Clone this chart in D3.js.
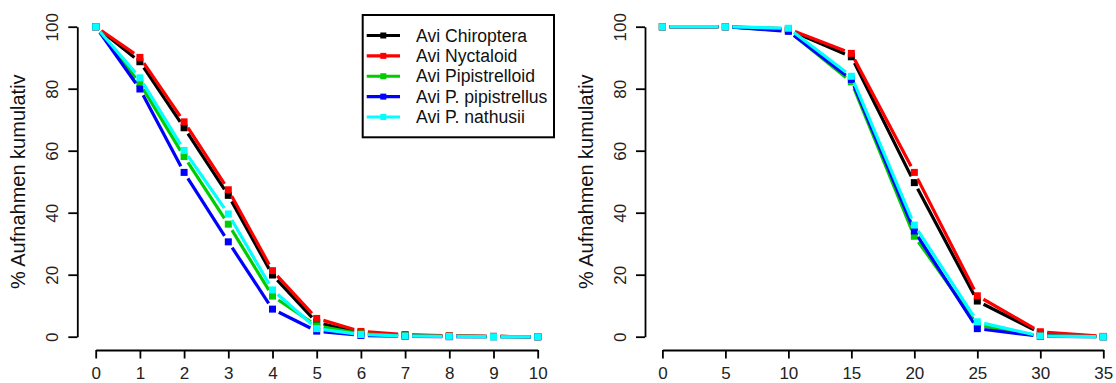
<!DOCTYPE html>
<html><head><meta charset="utf-8">
<script src="https://cdn.jsdelivr.net/npm/d3@7"></script>
<style>
html,body{margin:0;padding:0;background:#fff;}
svg{display:block;font-family:"Liberation Sans",Arial,sans-serif;}
</style></head>
<body>
<svg id="c" width="1116" height="383"></svg>
<script>
// ---- data ----
const seriesNames = ["Avi Chiroptera","Avi Nyctaloid","Avi Pipistrelloid","Avi P. pipistrellus","Avi P. nathusii"];
const seriesColors = ["#000000","#ff0000","#00cd00","#0000ff","#00ffff"];

const leftX = [0,1,2,3,4,5,6,7,8,9,10];
const leftChiroptera   = [100, 88.7, 67.4, 45.6, 19.9, 4.6, 1.2, 0.5, 0.2, 0.1, 0];
const leftNyctaloid    = [100, 90.1, 69.3, 47.4, 21.3, 5.9, 1.7, 0.7, 0.3, 0.1, 0];
const leftPipistrelloid= [100, 81.7, 58.1, 36.3, 13.1, 3.5, 0.9, 0.3, 0.1, 0, 0];
const leftPipistrellus = [100, 79.9, 53.0, 30.6, 8.9, 1.8, 0.4, 0.1, 0, 0, 0];
const leftNathusii     = [100, 83.5, 60.1, 39.6, 15.1, 2.6, 0.7, 0.2, 0.1, 0, 0];

const rightX = [0,5,10,15,20,25,30,35];
const rightChiroptera   = [100, 100, 99.0, 90.3, 49.7, 11.5, 1.2, 0];
const rightNyctaloid    = [100, 100, 99.3, 91.4, 53.0, 13.2, 1.6, 0.1];
const rightPipistrelloid= [100, 100, 98.7, 82.2, 32.4, 3.8, 0.2, 0];
const rightPipistrellus = [100, 100, 98.5, 83.0, 34.1, 2.6, 0.1, 0];
const rightNathusii     = [100, 100, 99.5, 84.0, 36.0, 4.8, 0.2, 0];

const leftXTicks = [0,1,2,3,4,5,6,7,8,9,10];
const rightXTicks = [0,5,10,15,20,25,30,35];
const yTicks = [0,20,40,60,80,100];
const yTitle = "% Aufnahmen kumulativ";

const leftSeries = [leftChiroptera,leftNyctaloid,leftPipistrelloid,leftPipistrellus,leftNathusii];
const rightSeries = [rightChiroptera,rightNyctaloid,rightPipistrelloid,rightPipistrellus,rightNathusii];

// ---- drawing ----
const svg = d3.select("#c");
const FS_TICK = 17, FS_TITLE = 20, FS_LEG = 17.6;

function panel(opts){
  const {xs, series, xTicks, xRange, axisX, titleX} = opts;
  const x = d3.scaleLinear().domain([d3.min(xs), d3.max(xs)]).range(xRange);
  const y = d3.scaleLinear().domain([0,100]).range([336.7, 26.7]);
  const g = svg.append("g");

  // x axis
  const xa = g.append("g").attr("transform","translate(0,350)")
    .call(d3.axisBottom(x).tickValues(xTicks).tickSize(8.5).tickSizeOuter(0).tickFormat(d3.format("d")));
  xa.select(".domain").attr("stroke","#000").attr("stroke-width",1.8);
  xa.selectAll(".tick line").attr("stroke","#000").attr("stroke-width",1.8);
  xa.selectAll(".tick text").attr("font-size",FS_TICK).attr("font-family","Liberation Sans, Arial, sans-serif")
    .attr("fill","#222").attr("y",null).attr("dy",null).attr("transform","translate(0,29.3)");

  // y axis
  const ya = g.append("g").attr("transform",`translate(${axisX},0)`)
    .call(d3.axisLeft(y).tickValues(yTicks).tickSize(9).tickSizeOuter(0));
  ya.select(".domain").attr("stroke","#000").attr("stroke-width",1.8);
  ya.selectAll(".tick line").attr("stroke","#000").attr("stroke-width",1.8);
  ya.selectAll(".tick text").attr("font-size",FS_TICK).attr("font-family","Liberation Sans, Arial, sans-serif")
    .attr("fill","#222").attr("x",null).attr("dy",null)
    .attr("text-anchor","middle").attr("transform","translate(-19,0) rotate(-90)");

  // y title
  g.append("text").attr("transform",`translate(${titleX},181.7) rotate(-90)`)
    .attr("text-anchor","middle").attr("font-size",FS_TITLE).attr("fill","#111").text(yTitle);

  // series: lines with gaps around points (R type="b")
  const gap = 7;
  series.forEach((vals,si)=>{
    const col = seriesColors[si];
    const pts = xs.map((xv,i)=>[x(xv), y(vals[i])]);
    const sg = g.append("g");
    for(let i=0;i<pts.length-1;i++){
      const [x1,y1]=pts[i],[x2,y2]=pts[i+1];
      const dx=x2-x1, dy=y2-y1, L=Math.hypot(dx,dy);
      if(L>2*gap){
        const ux=dx/L, uy=dy/L;
        sg.append("line").attr("x1",x1+ux*gap).attr("y1",y1+uy*gap)
          .attr("x2",x2-ux*gap).attr("y2",y2-uy*gap)
          .attr("stroke",col).attr("stroke-width",3.2);
      }
    }
    sg.selectAll("rect").data(pts).join("rect")
      .attr("x",d=>d[0]-3.5).attr("y",d=>d[1]-3.5).attr("width",7).attr("height",7)
      .attr("fill",col);
  });
  return {x,y};
}

panel({xs:leftX, series:leftSeries, xTicks:leftXTicks, xRange:[95.7,537.7], axisX:77.3, titleX:25});
panel({xs:rightX, series:rightSeries, xTicks:rightXTicks, xRange:[662.4,1103.3], axisX:645, titleX:593});

// legend
const lg = svg.append("g");
lg.append("rect").attr("x",362.7).attr("y",15).attr("width",191.3).attr("height",122.3)
  .attr("fill","#fff").attr("stroke","#000").attr("stroke-width",2);
const rowY = d3.scaleLinear().domain([0,4]).range([35.5,117]);
seriesNames.forEach((n,i)=>{
  const yy = rowY(i);
  lg.append("line").attr("x1",366.7).attr("x2",400).attr("y1",yy).attr("y2",yy)
    .attr("stroke",seriesColors[i]).attr("stroke-width",3.2);
  lg.append("rect").attr("x",383.3-3).attr("y",yy-3).attr("width",6).attr("height",6).attr("fill",seriesColors[i]);
  lg.append("text").attr("x",416).attr("y",yy+6).attr("font-size",FS_LEG).attr("fill","#111").text(n);
});
</script>
</body></html>
